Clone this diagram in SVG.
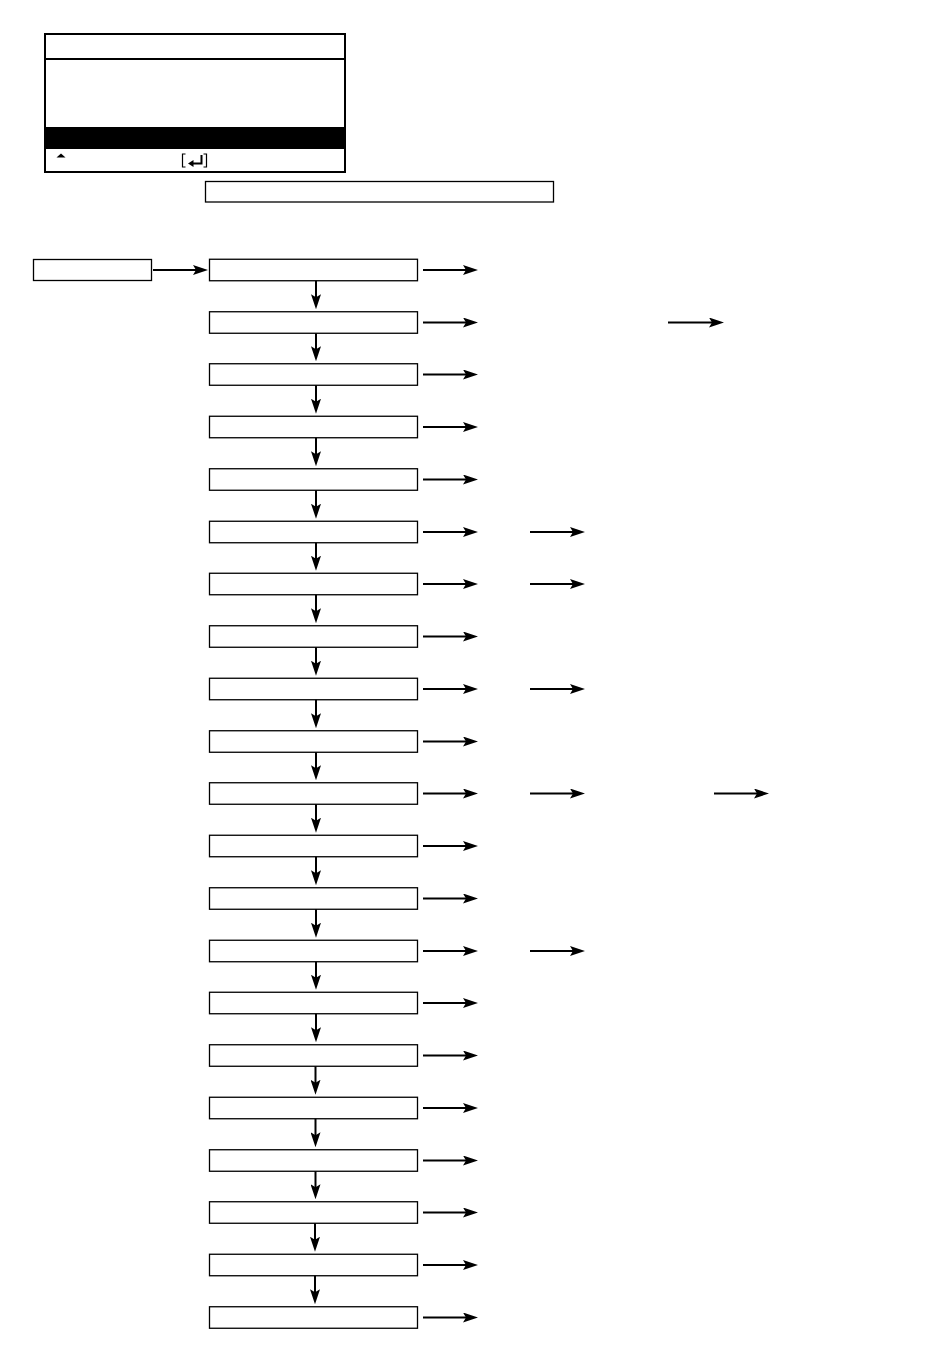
<svg xmlns="http://www.w3.org/2000/svg" width="950" height="1364" viewBox="0 0 950 1364">
<style>
.box{fill:#fff;stroke:#000;stroke-width:1.3}
.conn{fill:none;stroke:#000;stroke-width:2;marker-end:url(#ah)}
</style>
<defs>
<marker id="ah" viewBox="0 0 15 10" refX="4" refY="5" markerWidth="15" markerHeight="10" markerUnits="userSpaceOnUse" orient="auto">
<path d="M0,0 L15,5 L0,10 L3,5 z" fill="#000"/>
</marker>
</defs>
<rect width="950" height="1364" fill="#fff"/>
<g id="screen">
<rect x="45" y="34" width="300" height="138" fill="#fff" stroke="#000" stroke-width="2"/>
<line x1="45" y1="59" x2="345" y2="59" stroke="#000" stroke-width="2"/>
<rect x="45" y="127" width="300" height="22" fill="#000"/>
<polygon points="56.5,157.5 61,153.5 65.5,157.5" fill="#000"/>
<path d="M185.5,154 H182.5 V167 H185.5 M203.5,154 H206.5 V167 H203.5" fill="none" stroke="#000" stroke-width="1.2"/>
<path d="M201.5,155 V163.5 H192" fill="none" stroke="#000" stroke-width="2"/>
<polygon points="188,163.5 193.5,160 193.5,167" fill="#000"/>
</g>
<g id="caption"><rect x="205.5" y="181.5" width="348" height="20.5" class="box" stroke-width="1"/></g>
<g id="start"><rect x="33.5" y="259.5" width="118" height="21" class="box"/></g>
<g id="n0"><rect x="209.5" y="259.25" width="208" height="21.5" class="box"/></g>
<g id="n1"><rect x="209.5" y="311.75" width="208" height="21.5" class="box"/></g>
<g id="n2"><rect x="209.5" y="363.75" width="208" height="21.5" class="box"/></g>
<g id="n3"><rect x="209.5" y="416.25" width="208" height="21.5" class="box"/></g>
<g id="n4"><rect x="209.5" y="468.75" width="208" height="21.5" class="box"/></g>
<g id="n5"><rect x="209.5" y="521.25" width="208" height="21.5" class="box"/></g>
<g id="n6"><rect x="209.5" y="573.25" width="208" height="21.5" class="box"/></g>
<g id="n7"><rect x="209.5" y="625.75" width="208" height="21.5" class="box"/></g>
<g id="n8"><rect x="209.5" y="678.25" width="208" height="21.5" class="box"/></g>
<g id="n9"><rect x="209.5" y="730.75" width="208" height="21.5" class="box"/></g>
<g id="n10"><rect x="209.5" y="782.75" width="208" height="21.5" class="box"/></g>
<g id="n11"><rect x="209.5" y="835.25" width="208" height="21.5" class="box"/></g>
<g id="n12"><rect x="209.5" y="887.75" width="208" height="21.5" class="box"/></g>
<g id="n13"><rect x="209.5" y="940.25" width="208" height="21.5" class="box"/></g>
<g id="n14"><rect x="209.5" y="992.25" width="208" height="21.5" class="box"/></g>
<g id="n15"><rect x="209.5" y="1044.75" width="208" height="21.5" class="box"/></g>
<g id="n16"><rect x="209.5" y="1097.25" width="208" height="21.5" class="box"/></g>
<g id="n17"><rect x="209.5" y="1149.75" width="208" height="21.5" class="box"/></g>
<g id="n18"><rect x="209.5" y="1201.75" width="208" height="21.5" class="box"/></g>
<g id="n19"><rect x="209.5" y="1254.25" width="208" height="21.5" class="box"/></g>
<g id="n20"><rect x="209.5" y="1306.75" width="208" height="21.5" class="box"/></g>
<g id="connectors">
<path class="conn" d="M153,270 H197"/>
<path class="conn" d="M316,280.75 V298.25"/>
<path class="conn" d="M316,333.25 V350.25"/>
<path class="conn" d="M316,385.25 V402.75"/>
<path class="conn" d="M316,437.75 V455.25"/>
<path class="conn" d="M316,490.25 V507.75"/>
<path class="conn" d="M316,542.75 V559.75"/>
<path class="conn" d="M316,594.75 V612.25"/>
<path class="conn" d="M316,647.25 V664.75"/>
<path class="conn" d="M316,699.75 V717.25"/>
<path class="conn" d="M316,752.25 V769.25"/>
<path class="conn" d="M316,804.25 V821.75"/>
<path class="conn" d="M316,856.75 V874.25"/>
<path class="conn" d="M316,909.25 V926.75"/>
<path class="conn" d="M316,961.75 V978.75"/>
<path class="conn" d="M316,1013.75 V1031.25"/>
<path class="conn" d="M315.5,1066.25 V1083.75"/>
<path class="conn" d="M315.5,1118.75 V1136.25"/>
<path class="conn" d="M315.5,1171.25 V1188.25"/>
<path class="conn" d="M315,1223.25 V1240.75"/>
<path class="conn" d="M315,1275.75 V1293.25"/>
<path class="conn" d="M423,270 H467"/>
<path class="conn" d="M423,322.5 H467"/>
<path class="conn" d="M423,374.5 H467"/>
<path class="conn" d="M423,427 H467"/>
<path class="conn" d="M423,479.5 H467"/>
<path class="conn" d="M423,532 H467"/>
<path class="conn" d="M423,584 H467"/>
<path class="conn" d="M423,636.5 H467"/>
<path class="conn" d="M423,689 H467"/>
<path class="conn" d="M423,741.5 H467"/>
<path class="conn" d="M423,793.5 H467"/>
<path class="conn" d="M423,846 H467"/>
<path class="conn" d="M423,898.5 H467"/>
<path class="conn" d="M423,951 H467"/>
<path class="conn" d="M423,1003 H467"/>
<path class="conn" d="M423,1055.5 H467"/>
<path class="conn" d="M423,1108 H467"/>
<path class="conn" d="M423,1160.5 H467"/>
<path class="conn" d="M423,1212.5 H467"/>
<path class="conn" d="M423,1265 H467"/>
<path class="conn" d="M423,1317.5 H467"/>
<path class="conn" d="M668,322.5 H713"/>
<path class="conn" d="M530,532 H574"/>
<path class="conn" d="M530,584 H574"/>
<path class="conn" d="M530,689 H574"/>
<path class="conn" d="M530,793.5 H574"/>
<path class="conn" d="M714,793.5 H758"/>
<path class="conn" d="M530,951 H574"/>
</g>
</svg>
